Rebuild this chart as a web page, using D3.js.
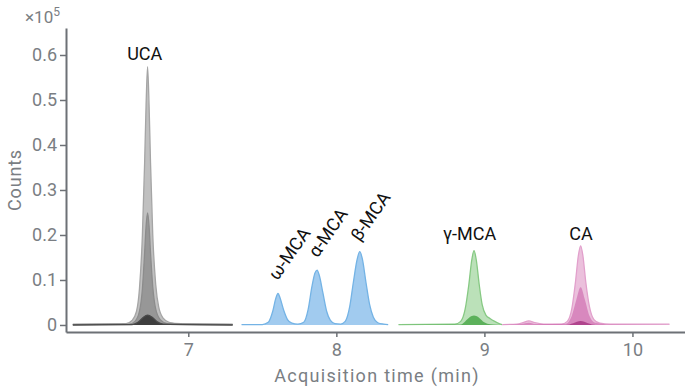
<!DOCTYPE html>
<html>
<head>
<meta charset="utf-8">
<script src="https://cdn.jsdelivr.net/npm/d3@7"></script>
<style>
  body { margin: 0; background: #fff; }
  svg { display: block; font-family: Roboto, sans-serif; }
</style>
</head>
<body>
<div id="chart"></div>
<script>
// tick values (counts in units of 1e5, time in minutes)
const timeTicks = [7, 8, 9, 10];
const countTicks = [0, 0.1, 0.2, 0.3, 0.4, 0.5, 0.6];

// traces: [time, counts x1e5]
const ucaHigh = [[6.22,0.002],[6.58,0.003],[6.62,0.01],[6.65,0.03],[6.67,0.08],[6.69,0.2],[6.705,0.36],[6.715,0.49],[6.725,0.574],[6.735,0.49],[6.745,0.36],[6.76,0.2],[6.78,0.09],[6.80,0.04],[6.83,0.015],[6.87,0.006],[6.95,0.003],[7.30,0.002]];
const ucaMid = [[6.22,0.001],[6.6,0.002],[6.64,0.008],[6.67,0.03],[6.69,0.08],[6.705,0.16],[6.715,0.22],[6.725,0.249],[6.735,0.22],[6.745,0.16],[6.76,0.085],[6.78,0.035],[6.81,0.012],[6.86,0.003],[7.30,0.001]];
const ucaLow = [[6.22,0.0],[6.62,0.001],[6.66,0.006],[6.69,0.015],[6.725,0.022],[6.76,0.016],[6.79,0.007],[6.83,0.002],[7.30,0.0]];

const mcaTrace = [[7.36,0.001],[7.50,0.001],[7.54,0.006],[7.57,0.03],[7.59,0.058],[7.606,0.070],[7.62,0.06],[7.645,0.032],[7.67,0.012],[7.70,0.004],[7.74,0.002],[7.78,0.006],[7.81,0.035],[7.835,0.085],[7.855,0.115],[7.87,0.122],[7.885,0.11],[7.91,0.07],[7.935,0.03],[7.96,0.01],[7.99,0.003],[8.03,0.002],[8.06,0.008],[8.09,0.04],[8.115,0.095],[8.14,0.145],[8.158,0.163],[8.175,0.148],[8.20,0.095],[8.225,0.045],[8.25,0.017],[8.28,0.005],[8.32,0.002],[8.35,0.001]];

const gmcaHigh = [[8.42,0.001],[8.80,0.002],[8.84,0.008],[8.87,0.035],[8.895,0.09],[8.915,0.145],[8.93,0.165],[8.945,0.145],[8.965,0.09],[8.985,0.045],[9.01,0.022],[9.04,0.014],[9.07,0.008],[9.10,0.003],[9.12,0.001]];
const gmcaLow = [[8.42,0.0],[8.84,0.001],[8.87,0.008],[8.90,0.017],[8.93,0.021],[8.96,0.017],[8.99,0.008],[9.02,0.003],[9.06,0.001],[9.12,0.0]];

const caHigh = [[9.12,0.001],[9.22,0.002],[9.26,0.005],[9.30,0.009],[9.34,0.005],[9.40,0.002],[9.52,0.002],[9.56,0.008],[9.59,0.035],[9.615,0.095],[9.635,0.155],[9.65,0.176],[9.665,0.155],[9.685,0.095],[9.71,0.04],[9.74,0.012],[9.78,0.004],[9.85,0.002],[10.25,0.002]];
const caMid = [[9.12,0.0],[9.25,0.002],[9.30,0.005],[9.35,0.002],[9.55,0.003],[9.59,0.02],[9.62,0.055],[9.65,0.084],[9.68,0.055],[9.71,0.02],[9.75,0.005],[9.85,0.001],[10.25,0.0]];
const caLow = [[9.12,0.0],[9.55,0.0],[9.60,0.004],[9.65,0.009],[9.70,0.004],[9.75,0.0],[10.25,0.0]];

// peak labels
const peakNames = ["UCA", "ω-MCA", "α-MCA", "β-MCA", "γ-MCA", "CA"];
const labelTimes = [6.706, 7.602, 7.872, 8.158, 8.90, 9.652];
const labelCounts = [0.589, 0.097, 0.148, 0.184, 0.189, 0.189];
const labelRotated = [false, true, true, true, false, false];

const layers = [
  { data: ucaHigh, fill: "rgba(150,150,150,0.6)", stroke: "#a5a5a5" },
  { data: ucaMid, fill: "rgba(110,110,110,0.5)", stroke: "#8c8c8c" },
  { data: ucaLow, fill: "rgba(40,40,40,0.8)", stroke: "#4a4a4a" },
  { data: mcaTrace, fill: "rgba(110,175,230,0.65)", stroke: "#74b3e5" },
  { data: gmcaHigh, fill: "rgba(120,195,115,0.5)", stroke: "#86c983" },
  { data: gmcaLow, fill: "rgba(60,160,60,0.75)", stroke: "none" },
  { data: caHigh, fill: "rgba(215,130,185,0.5)", stroke: "#e2a0cc" },
  { data: caMid, fill: "rgba(200,90,165,0.55)", stroke: "none" },
  { data: caLow, fill: "rgba(160,40,120,0.7)", stroke: "none" }
];

const W = 685, H = 387;
const margin = { top: 28, right: 0, bottom: 55, left: 66 };
const axisColor = "#6d7176", textColor = "#7a7e83";

const svg = d3.select("#chart").append("svg")
  .attr("width", W).attr("height", H);

const x = d3.scaleLinear()
  .domain([6.174, 10.355])
  .range([margin.left, W - margin.right]);

const y = d3.scaleLinear()
  .domain([-0.0156, 0.66])
  .range([H - margin.bottom, margin.top]);

const area = d3.area()
  .x(d => x(d[0])).y0(y(0)).y1(d => y(d[1]))
  .curve(d3.curveMonotoneX);
const line = d3.line()
  .x(d => x(d[0])).y(d => y(d[1]))
  .curve(d3.curveMonotoneX);

const traces = svg.append("g");
layers.forEach(l => {
  traces.append("path").datum(l.data)
    .attr("d", area).attr("fill", l.fill);
  traces.append("path").datum(l.data)
    .attr("d", line).attr("fill", "none")
    .attr("stroke", l.stroke).attr("stroke-width", 1.3);
});

// axes
const xAxis = svg.append("g")
  .attr("transform", `translate(0,${H - margin.bottom})`)
  .call(d3.axisBottom(x).tickValues(timeTicks).tickSize(5).tickPadding(6).tickSizeOuter(0)
    .tickFormat(d3.format("d")));
const yAxis = svg.append("g")
  .attr("transform", `translate(${margin.left},0)`)
  .call(d3.axisLeft(y).tickValues(countTicks).tickSize(6).tickPadding(3).tickSizeOuter(0)
    .tickFormat(d => d === 0 ? "0" : d3.format(".1f")(d)));

[xAxis, yAxis].forEach(g => {
  g.select(".domain").attr("stroke", axisColor).attr("stroke-width", 2);
  g.selectAll(".tick line").attr("stroke", axisColor).attr("stroke-width", 1.5);
  g.selectAll(".tick text").attr("fill", textColor)
    .style("font-size", "18px").style("font-family", "Roboto, sans-serif");
});

// axis titles
svg.append("text")
  .attr("x", 377).attr("y", 382)
  .attr("text-anchor", "middle").attr("fill", textColor)
  .style("font-size", "18px").style("letter-spacing", "1.3px")
  .text("Acquisition time (min)");

svg.append("text")
  .attr("transform", `translate(21,${(margin.top + H - margin.bottom) / 2}) rotate(-90)`)
  .attr("text-anchor", "middle").attr("fill", textColor)
  .style("font-size", "18px").style("letter-spacing", "0.8px")
  .text("Counts");

const exp = svg.append("text")
  .attr("x", 25).attr("y", 23)
  .attr("fill", textColor).style("font-size", "17px");
exp.append("tspan").text("×10");
exp.append("tspan").attr("dy", -7).style("font-size", "12px").text("5");

// peak labels
svg.append("g").selectAll("text")
  .data(peakNames)
  .join("text")
  .attr("transform", (d, i) => labelRotated[i]
    ? `translate(${x(labelTimes[i])},${y(labelCounts[i])}) rotate(-55)`
    : `translate(${x(labelTimes[i])},${y(labelCounts[i])})`)
  .attr("text-anchor", (d, i) => labelRotated[i] ? "start" : "middle")
  .attr("fill", "#111")
  .style("font-size", "18px")
  .text(d => d);
</script>
</body>
</html>
